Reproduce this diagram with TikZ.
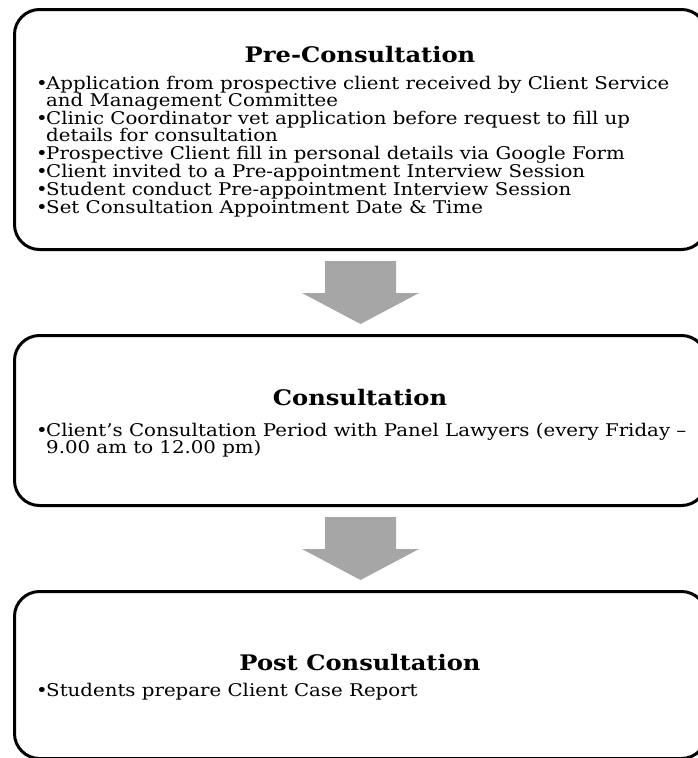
\documentclass[tikz,border=0pt]{standalone}
\usepackage{fontspec}
\setmainfont[FakeStretch=1.13]{DejaVu Serif}
\usetikzlibrary{positioning,calc}
\definecolor{arrowgray}{RGB}{166,166,166}
\setlength{\lineskiplimit}{-20pt}
\newcommand{\bul}{\makebox[10pt][l]{\textbullet}}
\newcommand{\cont}{\hspace*{10pt}}
\tikzset{
  stage/.style={draw, line width=3pt, rounded corners=25pt, minimum width=692pt, anchor=north west, inner sep=0pt},
  heading/.style={font=\bfseries\fontsize{21.4}{24}\selectfont, inner sep=0pt},
  points/.style={font=\fontsize{17.5}{17}\selectfont, align=left, anchor=north west, inner sep=0pt},
}
\begin{document}
\begin{tikzpicture}[x=1pt,y=-1pt]
\useasboundingbox (0,0) rectangle (697,758);
% the three stages
\node [stage, minimum height=240pt] (pre) at (13,8) {};
\node [stage, minimum height=170pt] (cons) at (13,334) {};
\node [stage, minimum height=167pt] (post) at (13,590) {};
% headings
\node [heading] (pretitle) at (360,55) {Pre-Consultation};
\node [heading] (constitle) at (360,398) {Consultation};
\node [heading] (posttitle) at (360,663) {Post Consultation};
% bullet points
\node [points] (prelist) at (36,76) {\bul Application from prospective client received by Client Service\\
\cont and Management Committee\\[1pt]
\bul Clinic Coordinator vet application before request to fill up\\
\cont details for consultation\\[1pt]
\bul Prospective Client fill in personal details via Google Form\\[1pt]
\bul Client invited to a Pre-appointment Interview Session\\[1pt]
\bul Student conduct Pre-appointment Interview Session\\[1pt]
\bul Set Consultation Appointment Date \& Time};
\node [points] (conslist) at (36,423) {\bul Client's Consultation Period with Panel Lawyers (every Friday --\\
\cont 9.00 am to 12.00 pm)};
\node [points, anchor=base west] (postlist) at (36,696) {\bul Students prepare Client Case Report};
% block arrows between the stages
\foreach \a/\b in {pre/cons, cons/post}
  \fill [arrowgray, shift={($(\a.south)!.5!(\b.north)$)}] (-35.5,-31.5) -- (35.5,-31.5) -- (35.5,0.5) -- (58.5,0.5) -- (0,31.5) -- (-58.5,0.5) -- (-35.5,0.5) -- cycle;
\end{tikzpicture}
\end{document}
